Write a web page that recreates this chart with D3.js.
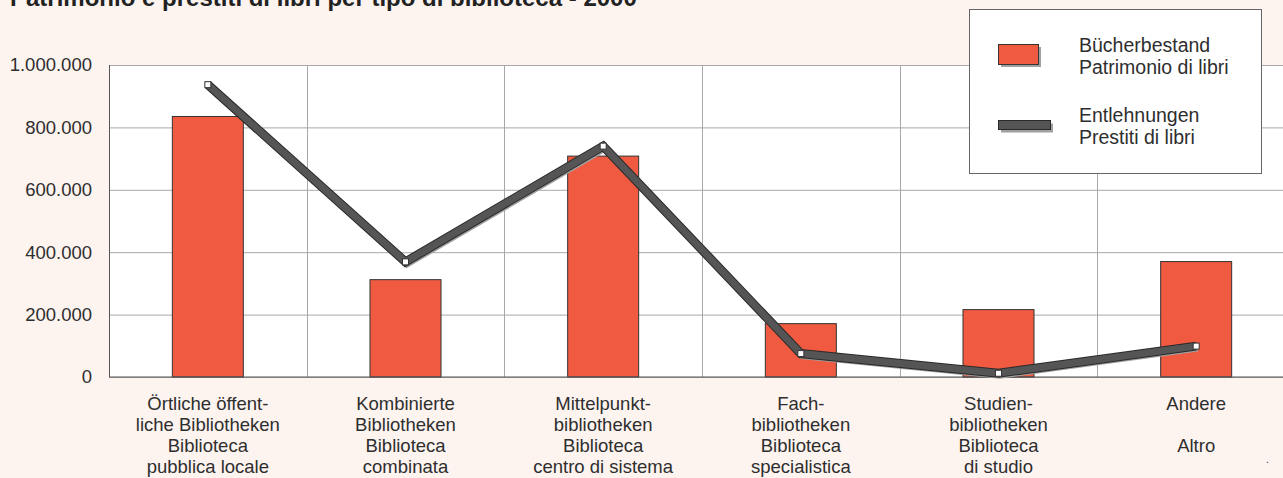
<!DOCTYPE html>
<html>
<head>
<meta charset="utf-8">
<script src="https://cdn.jsdelivr.net/npm/d3@7"></script>
<style>
  html, body { margin: 0; padding: 0; background: #fdf4f0; }
  svg { display: block; font-family: "Liberation Sans", Arial, sans-serif; }
</style>
</head>
<body>
<div id="chart"></div>
<script>
// Data
const categories = [
    ["Örtliche öffent-", "liche Bibliotheken", "Biblioteca", "pubblica locale"],
    ["Kombinierte", "Bibliotheken", "Biblioteca", "combinata"],
    ["Mittelpunkt-", "bibliotheken", "Biblioteca", "centro di sistema"],
    ["Fach-", "bibliotheken", "Biblioteca", "specialistica"],
    ["Studien-", "bibliotheken", "Biblioteca", "di studio"],
    ["Andere", "", "Altro", ""]
];
const bestand = [835000, 312000, 708000, 171000, 216000, 370000];
const entlehnungen = [937000, 369000, 740000, 75000, 12000, 99000];
const yTicks = [0, 200000, 400000, 600000, 800000, 1000000];
const legendLabels = [
    ["Bücherbestand", "Patrimonio di libri"],
    ["Entlehnungen", "Prestiti di libri"]
];
const title = "Patrimonio e prestiti di libri per tipo di biblioteca - 2000";

const W = 1283, H = 478;
const plot = {left: 109, right: 1295, top: 65, bottom: 377};
const barColor = "#f05a40";
const lineColor = "#555555";

const svg = d3.select("#chart").append("svg")
    .attr("width", W)
    .attr("height", H);

svg.append("rect").attr("width", W).attr("height", H).attr("fill", "#fdf4f0");

// Title (cut off at the top like the reference)
svg.append("text")
    .attr("x", 10)
    .attr("y", 6)
    .attr("font-size", 24)
    .attr("font-weight", "bold")
    .attr("fill", "#222")
    .text(title);

// Scales
const x = d3.scaleBand()
    .domain(d3.range(categories.length))
    .range([plot.left, plot.right])
    .padding(0);

const y = d3.scaleLinear()
    .domain([0, 1000000])
    .range([plot.bottom, plot.top]);

const de = d3.formatLocale({decimal: ",", thousands: ".", grouping: [3], currency: ["", "€"]});

// Plot background
svg.append("rect")
    .attr("x", plot.left)
    .attr("y", plot.top)
    .attr("width", plot.right - plot.left)
    .attr("height", plot.bottom - plot.top)
    .attr("fill", "#fff");

// Horizontal gridlines
svg.append("g")
    .attr("transform", `translate(${plot.left},0)`)
    .call(d3.axisLeft(y).tickValues(yTicks).tickSize(-(plot.right - plot.left)).tickFormat(""))
    .call(g => g.select(".domain").remove())
    .call(g => g.selectAll("line").attr("stroke", "#a8a8a8").attr("stroke-width", 1));

// Vertical gridlines at category boundaries
svg.append("g").selectAll("line")
    .data(d3.range(1, categories.length + 1))
    .join("line")
    .attr("x1", d => Math.round(plot.left + d * x.step()) + 0.5)
    .attr("x2", d => Math.round(plot.left + d * x.step()) + 0.5)
    .attr("y1", plot.top)
    .attr("y2", plot.bottom)
    .attr("stroke", "#a8a8a8");

// Y tick labels
svg.append("g")
    .attr("transform", `translate(${plot.left},0)`)
    .call(d3.axisLeft(y).tickValues(yTicks).tickSize(0).tickPadding(17).tickFormat(de.format(",d")))
    .call(g => g.select(".domain").remove())
    .call(g => g.selectAll("text")
        .attr("font-size", 18.5)
        .attr("font-family", "Liberation Sans, Arial, sans-serif")
        .attr("fill", "#2e2e2e"));

// Bars
const barW = 71;
svg.append("g").selectAll("rect")
    .data(bestand)
    .join("rect")
    .attr("x", (d, i) => x(i) + x.bandwidth() / 2 - barW / 2)
    .attr("y", d => y(d))
    .attr("width", barW)
    .attr("height", d => y(0) - y(d))
    .attr("fill", barColor)
    .attr("stroke", "#333")
    .attr("stroke-width", 1);

// Axis lines
svg.append("line")
    .attr("x1", plot.left).attr("x2", plot.right)
    .attr("y1", plot.bottom).attr("y2", plot.bottom)
    .attr("stroke", "#555");
svg.append("line")
    .attr("x1", plot.left + 0.5).attr("x2", plot.left + 0.5)
    .attr("y1", plot.top).attr("y2", plot.bottom)
    .attr("stroke", "#555");

// Line series: shadow, outline, fill
const line = d3.line()
    .x((d, i) => x(i) + x.bandwidth() / 2)
    .y(d => y(d));

svg.append("path")
    .datum(entlehnungen)
    .attr("d", line)
    .attr("transform", "translate(1.5,1.5)")
    .attr("fill", "none")
    .attr("stroke", "#a0a0a0")
    .attr("stroke-width", 8);
svg.append("path")
    .datum(entlehnungen)
    .attr("d", line)
    .attr("fill", "none")
    .attr("stroke", "#2a2a2a")
    .attr("stroke-width", 9);
svg.append("path")
    .datum(entlehnungen)
    .attr("d", line)
    .attr("fill", "none")
    .attr("stroke", lineColor)
    .attr("stroke-width", 7);

// Markers
svg.append("g").selectAll("rect")
    .data(entlehnungen)
    .join("rect")
    .attr("x", (d, i) => x(i) + x.bandwidth() / 2 - 3)
    .attr("y", d => y(d) - 3)
    .attr("width", 6)
    .attr("height", 6)
    .attr("fill", "#fff")
    .attr("stroke", "#333")
    .attr("stroke-width", 1);

// Category labels
const catG = svg.append("g").selectAll("text")
    .data(categories)
    .join("text")
    .attr("text-anchor", "middle")
    .attr("font-size", 18.5)
    .attr("fill", "#2e2e2e");
catG.selectAll("tspan")
    .data((d, i) => d.map(t => ({t, i})))
    .join("tspan")
    .attr("x", d => x(d.i) + x.bandwidth() / 2)
    .attr("y", (d, j) => 409.5 + j * 21)
    .text(d => d.t);

// small stray dot, bottom right
svg.append("text")
    .attr("x", 1266).attr("y", 463)
    .attr("font-size", 10)
    .attr("fill", "#333")
    .text(".");

// Legend
const legend = svg.append("g");
legend.append("rect")
    .attr("x", 969.5).attr("y", 9.5)
    .attr("width", 292).attr("height", 164)
    .attr("fill", "#fff")
    .attr("stroke", "#666");

// bar swatch
legend.append("rect")
    .attr("x", 1001).attr("y", 47)
    .attr("width", 40).attr("height", 20)
    .attr("fill", "#a0a0a0");
legend.append("rect")
    .attr("x", 998.5).attr("y", 44.5)
    .attr("width", 40).attr("height", 20)
    .attr("fill", barColor)
    .attr("stroke", "#333");

// line swatch
legend.append("rect")
    .attr("x", 1001).attr("y", 123.5)
    .attr("width", 52).attr("height", 9)
    .attr("fill", "#a0a0a0");
legend.append("rect")
    .attr("x", 998.5).attr("y", 120.5)
    .attr("width", 52).attr("height", 9)
    .attr("fill", lineColor)
    .attr("stroke", "#2a2a2a");

legend.selectAll("text.lg")
    .data(legendLabels)
    .join("text")
    .attr("class", "lg")
    .attr("font-size", 19.5)
    .attr("fill", "#2e2e2e")
    .selectAll("tspan")
    .data((d, i) => d.map((t, j) => ({t, i, j})))
    .join("tspan")
    .attr("x", 1079)
    .attr("y", d => (d.i === 0 ? 52 : 122) + d.j * 21.5)
    .text(d => d.t);
</script>
</body>
</html>
